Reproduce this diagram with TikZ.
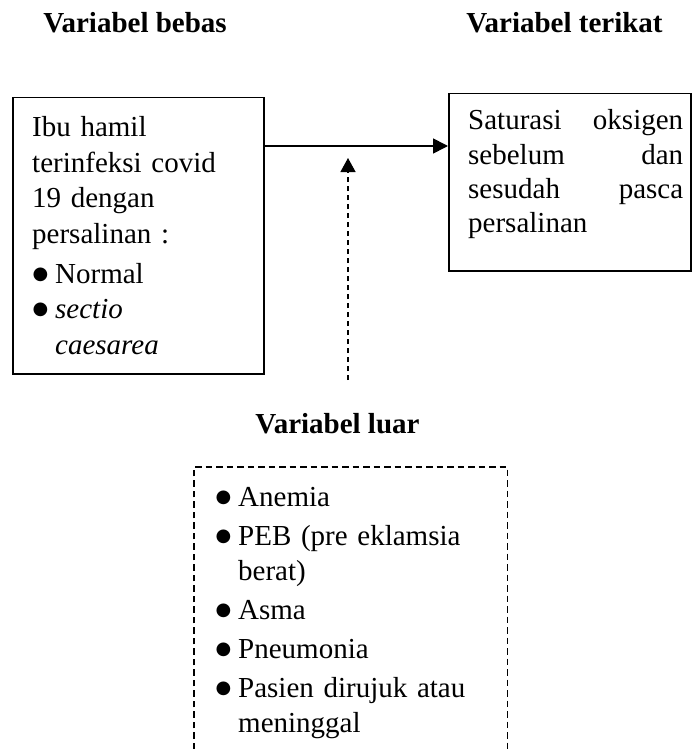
\documentclass[tikz,border=0pt]{standalone}
\usepackage{fontspec}
\setmainfont{Liberation Serif}
\newfontfamily\bulfont{DejaVu Sans}
\usetikzlibrary{arrows.meta}
\newcommand\mybul{\makebox[23pt][l]{\hspace*{0.5pt}\raisebox{4pt}{\bulfont\fontsize{18}{18}\selectfont ●}}}
\tikzset{
  boxstyle/.style={draw, line width=1.5pt, rectangle, inner sep=0pt, anchor=north west},
  plainbox/.style={rectangle, inner sep=0pt, anchor=north west},
  dashline/.style={line width=1.2pt, dash pattern=on 6.5pt off 4pt},
  title/.style={font=\fontsize{29}{35}\selectfont\bfseries, inner sep=0pt, anchor=base},
  bodytext/.style={font=\fontsize{29}{35.5}\selectfont, inner sep=0pt, anchor=base west, align=left},
  solidarrow/.style={line width=1.6pt, -{Triangle[length=15pt,width=15pt]}},
  dasharrow/.style={line width=1.3pt, dash pattern=on 5.5pt off 3.5pt, -{Triangle[length=14pt,width=15pt]}},
}
\begin{document}
\begin{tikzpicture}[x=1pt,y=-1pt]
\useasboundingbox (0,0) rectangle (695,749);
% titles
\node[title] (tbebas) at (135,33) {Variabel bebas};
\node[title] (tterikat) at (564.5,33) {Variabel terikat};
\node[title] (tluar) at (337.5,433) {Variabel luar};
% boxes
\node[boxstyle, minimum width=251pt, minimum height=276pt] (ind) at (12,97) {};
\node[boxstyle, minimum width=242pt, minimum height=177pt] (dep) at (448,93) {};
\node[plainbox, minimum width=313pt, minimum height=282pt] (ext) at (194,467) {};
\draw[dashline] (ext.south west) -- (ext.north west) -- (ext.north east) -- (ext.south east);
% texts
\node[bodytext, text width=225pt] (indtext) at (32,136.7) {Ibu hamil\\
terinfeksi covid\\
19 dengan\\
persalinan :\\[4.5pt]
\mybul Normal\\
\mybul\textit{sectio}\\
\hspace*{23pt}\textit{caesarea}};
\node[bodytext, text width=215pt, font=\fontsize{29}{34}\selectfont] (deptext) at (468,130) {Saturasi\hfill oksigen\\
sebelum\hfill dan\\
sesudah\hfill pasca\\
persalinan};
\node[bodytext, text width=265pt, font=\fontsize{29}{35}\selectfont] (exttext) at (215,506.7) {\mybul Anemia\\[4pt]
\mybul PEB (pre eklamsia\\
\hspace*{23pt}berat)\\[4pt]
\mybul Asma\\[4pt]
\mybul Pneumonia\\[4pt]
\mybul Pasien dirujuk atau\\
\hspace*{23pt}meninggal};
% connectors
\coordinate (arrowy) at (0,146);
\draw[solidarrow] (ind.east |- arrowy) -- (dep.west |- arrowy);
\coordinate (modtail) at (348,380);
\coordinate (modtip) at (348,158);
\draw[dasharrow] (modtail) -- (modtip);
\end{tikzpicture}
\end{document}
